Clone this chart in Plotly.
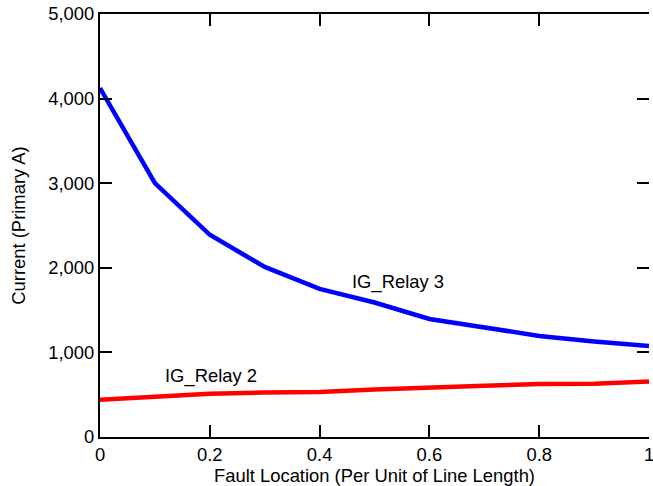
import plotly.graph_objects as go

fault_location = [0.0, 0.1, 0.2, 0.3, 0.4, 0.5, 0.6, 0.7, 0.8, 0.9, 1.0]
ig_relay3 = [4125, 3000, 2390, 2010, 1750, 1590, 1395, 1290, 1195, 1130, 1075]
ig_relay2 = [440, 476, 512, 525, 532, 560, 587, 605, 626, 630, 655]

x_ticks = [0, 0.2, 0.4, 0.6, 0.8, 1.0]
x_tick_labels = ["0", "0.2", "0.4", "0.6", "0.8", "1"]
y_ticks = [0, 1000, 2000, 3000, 4000, 5000]
y_tick_labels = ["0", "1,000", "2,000", "3,000", "4,000", "5,000"]

FONT = "Liberation Sans, Arial, sans-serif"
FS = 18.4

fig = go.Figure()
fig.add_trace(go.Scatter(x=fault_location, y=ig_relay2, mode="lines",
                         line=dict(color="#ff0000", width=4.5), name="IG_Relay 2",
                         showlegend=False))
fig.add_trace(go.Scatter(x=fault_location, y=ig_relay3, mode="lines",
                         line=dict(color="#0000ff", width=4.5), name="IG_Relay 3",
                         showlegend=False))

fig.add_annotation(x=0.114, y=721, text="IG_Relay 2", showarrow=False,
                   xanchor="left", yanchor="middle", font=dict(family=FONT, size=FS, color="black"))
fig.add_annotation(x=0.4556, y=1838, text="IG_Relay 3", showarrow=False,
                   xanchor="left", yanchor="middle", font=dict(family=FONT, size=FS, color="black"))

axis_common = dict(
    showgrid=False, zeroline=False, showline=True, linecolor="black", linewidth=2,
    ticks="inside", ticklen=12, tickwidth=2, tickcolor="black",
    tickfont=dict(family=FONT, size=FS, color="black"), automargin=False,
)

fig.update_layout(
    xaxis=dict(range=[0, 1], tickvals=x_ticks, ticktext=x_tick_labels, mirror="ticks",
               title=dict(text="Fault Location (Per Unit of Line Length)",
                          font=dict(family=FONT, size=FS, color="black"), standoff=5),
               **axis_common),
    yaxis=dict(range=[0, 5000], tickvals=y_ticks, ticktext=y_tick_labels, mirror=False,
               title=dict(text="Current (Primary A)",
                          font=dict(family=FONT, size=FS, color="black"), standoff=18),
               **axis_common),
    # right-hand tick marks without a visible frame line (the reference frame is cropped)
    yaxis2=dict(range=[0, 5000], tickvals=y_ticks, overlaying="y", side="right",
                showticklabels=False, showgrid=False, zeroline=False, showline=False,
                ticks="inside", ticklen=12, tickwidth=2, tickcolor="black", automargin=False),
)

# invisible trace so the right-hand axis is drawn
fig.add_trace(go.Scatter(x=fault_location, y=ig_relay3, yaxis="y2", mode="lines",
                         line=dict(width=0), opacity=0, hoverinfo="skip", showlegend=False))

fig.update_layout(
    template="none",
    width=660, height=486,
    margin=dict(l=100, r=11, t=14, b=49),
    paper_bgcolor="white", plot_bgcolor="white",
    font=dict(family=FONT, size=FS, color="black"),
)

fig.write_html(
    "out.html",
    config={"displayModeBar": False},
    post_script="document.body.style.margin='0px';document.body.style.overflow='hidden';",
)
